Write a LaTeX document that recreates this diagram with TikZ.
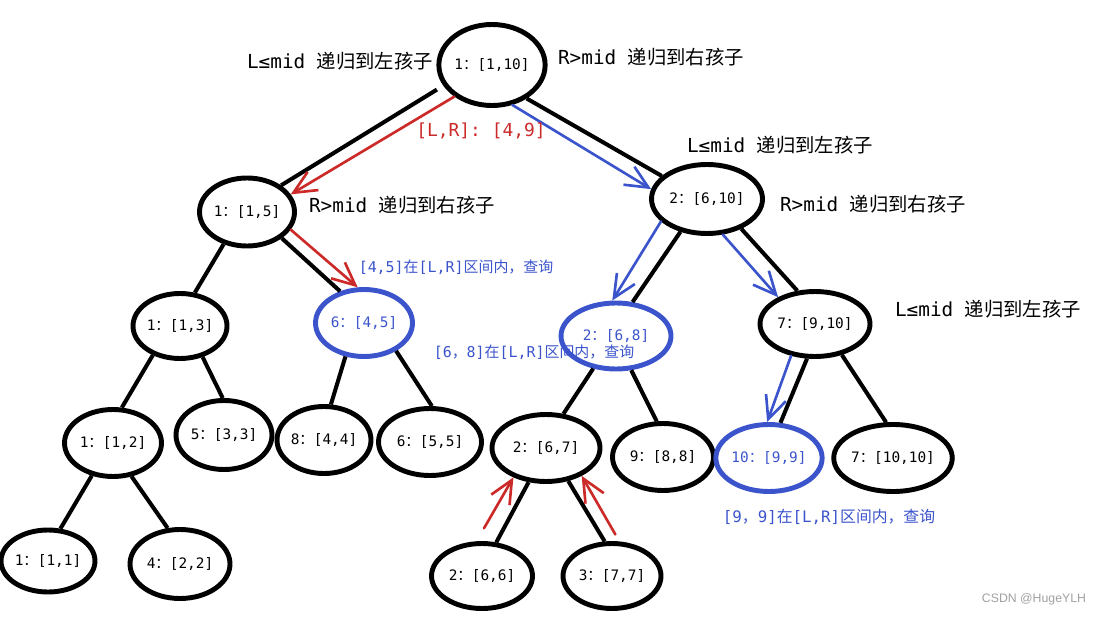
\documentclass[tikz,border=0pt]{standalone}
\usepackage{fontspec}
\setmainfont{DejaVu Sans Mono}
\newfontfamily\cjk{Noto Sans CJK SC}
\newfontfamily\marksans{Liberation Sans}
\usetikzlibrary{shapes.geometric,arrows.meta}
\definecolor{walkred}{RGB}{204,41,41}
\definecolor{hitblue}{RGB}{59,84,204}
\definecolor{markgray}{RGB}{160,160,160}
\tikzset{
  segnode/.style={draw, ellipse, line width=2.8pt, inner sep=0pt, font=\fontsize{8.2}{9}\selectfont},
  hitnode/.style={segnode, draw=hitblue, text=hitblue},
  treeline/.style={line width=2.3pt},
  walkarrow/.style={line width=1.5pt, line cap=round, draw=walkred, -{Straight Barb[length=13pt,width=12pt]}},
  hitarrow/.style={walkarrow, draw=hitblue},
  rulenote/.style={inner sep=0pt, font=\fontsize{11}{13}\selectfont},
  hitnote/.style={inner sep=0pt, text=hitblue, font=\fontsize{8.5}{10}\selectfont},
}
\begin{document}
\begin{tikzpicture}
            \useasboundingbox (0.000000,0.000000) rectangle (21.920000,12.320000);%
            % \clip (0,0) rectangle (21.920000,12.320000);

            % Marking segment nodes, level 0 and 1
            \node [segnode, minimum width=1.920000cm, minimum height=1.620000cm] (r) at (9.840000,11.020000) {1{\cjk ：}[1,10]};%
            \node [segnode, minimum width=1.900000cm, minimum height=1.360000cm] (a) at (4.940000,8.080000) {1{\cjk ：}[1,5]};%
            \node [segnode, minimum width=2.220000cm, minimum height=1.380000cm] (b) at (14.140000,8.340000) {2{\cjk ：}[6,10]};%

            % Marking segment nodes, level 2
            \node [segnode, minimum width=1.880000cm, minimum height=1.300000cm] (c) at (3.600000,5.800000) {1{\cjk ：}[1,3]};%
            \node [hitnode, minimum width=1.940000cm, minimum height=1.340000cm] (d) at (7.280000,5.860000) {6{\cjk ：}[4,5]};%
            \node [hitnode, minimum width=2.200000cm, minimum height=1.320000cm] (e) at (12.320000,5.600000) {2{\cjk ：}[6,8]};%
            \node [segnode, minimum width=2.200000cm, minimum height=1.300000cm] (f) at (16.300000,5.840000) {7{\cjk ：}[9,10]};%

            % Marking segment nodes, level 3
            \node [segnode, minimum width=1.940000cm, minimum height=1.340000cm] (g) at (2.260000,3.460000) {1{\cjk ：}[1,2]};%
            \node [segnode, minimum width=1.920000cm, minimum height=1.380000cm] (h) at (4.480000,3.620000) {5{\cjk ：}[3,3]};%
            \node [segnode, minimum width=1.820000cm, minimum height=1.340000cm] (i) at (6.480000,3.520000) {8{\cjk ：}[4,4]};%
            \node [segnode, minimum width=2.060000cm, minimum height=1.340000cm] (j) at (8.600000,3.480000) {6{\cjk ：}[5,5]};%
            \node [segnode, minimum width=2.160000cm, minimum height=1.340000cm] (k) at (10.920000,3.360000) {2{\cjk ：}[6,7]};%
            \node [segnode, minimum width=2.020000cm, minimum height=1.340000cm] (l) at (13.260000,3.180000) {9{\cjk ：}[8,8]};%
            \node [hitnode, minimum width=1.940000cm, minimum height=1.340000cm] (m) at (15.380000,3.160000) {10{\cjk ：}[9,9]};%
            \node [segnode, minimum width=2.320000cm, minimum height=1.340000cm] (n) at (17.860000,3.160000) {7{\cjk ：}[10,10]};%

            % Marking segment nodes, level 4
            \node [segnode, minimum width=1.880000cm, minimum height=1.240000cm] (o) at (0.960000,1.100000) {1{\cjk ：}[1,1]};%
            \node [segnode, minimum width=2.000000cm, minimum height=1.380000cm] (p) at (3.600000,1.040000) {4{\cjk ：}[2,2]};%
            \node [segnode, minimum width=2.020000cm, minimum height=1.300000cm] (q) at (9.640000,0.800000) {2{\cjk ：}[6,6]};%
            \node [segnode, minimum width=1.960000cm, minimum height=1.300000cm] (s) at (12.240000,0.800000) {3{\cjk ：}[7,7]};%

            % Drawing tree lines
            \draw [treeline, shorten <=0.150000cm] (r.-157) -- (a.38);%
            \draw [treeline] (r.-44) -- (b.153);%
            \draw [treeline] (a.-126) -- (c.66);%
            \draw [treeline] (a.-37) -- (d.127);%
            \draw [treeline] (b.-129) -- (e.64);%
            \draw [treeline] (b.-41) -- (f.118);%
            \draw [treeline] (c.-133) -- (g.76);%
            \draw [treeline] (c.-54) -- (h.92);%
            \draw [treeline] (d.-119) -- (i.79);%
            \draw [treeline] (d.-41) -- (j.87);%
            \draw [treeline] (e.-125) -- (k.63);%
            \draw [treeline] (e.-66) -- (l.100);%
            \draw [treeline] (f.-103) -- (m.72);%
            \draw [treeline] (f.-49) -- (n.101);%
            \draw [treeline] (g.-123) -- (o.69);%
            \draw [treeline] (g.-61) -- (p.109);%
            \draw [treeline] (k.-117) -- (q.67);%
            \draw [treeline] (k.-56) -- (s.102);%

            % Drawing query path, going down
            \draw [walkarrow] (r.-140) -- (a.22);%
            \draw [hitarrow] (r.-63) -- (b.170);%
            \draw [walkarrow] (a.-22) -- (d.100);%
            \draw [hitarrow] (b.-154) -- (e.96);%
            \draw [hitarrow] (b.-66) -- (f.144);%
            \draw [hitarrow] (f.-127) -- (m.93);%

            % Drawing query path, going back up
            \draw [walkarrow, shorten <=0.300000cm] (q.99) -- (k.-138);%
            \draw [walkarrow, shorten <=0.160000cm] (s.78) -- (k.-38);%

            % Marking rule texts
            \node [rulenote] (ruleleft) at (6.800000,11.100000) {L≤mid {\cjk 递归到左孩子}};%
            \node [rulenote] (ruleright) at (13.020000,11.180000) {R>mid {\cjk 递归到右孩子}};%
            \node [rulenote] (ruleb) at (15.600000,9.420000) {L≤mid {\cjk 递归到左孩子}};%
            \node [rulenote] (rulea) at (8.040000,8.220000) {R>mid {\cjk 递归到右孩子}};%
            \node [rulenote] (rulebb) at (17.460000,8.240000) {R>mid {\cjk 递归到右孩子}};%
            \node [rulenote] (rulef) at (19.760000,6.140000) {L≤mid {\cjk 递归到左孩子}};%

            % Marking query range and hits
            \node [inner sep=0pt, text=walkred, font=\fontsize{10.2}{12}\selectfont] (query) at (9.620000,9.700000) {[L,R]: [4,9]};%
            \node [hitnote] (hitd) at (9.120000,6.980000) {[4,5]{\cjk 在}[L,R]{\cjk 区间内，查询}};%
            \node [hitnote] (hite) at (10.680000,5.280000) {[6{\cjk ，}8]{\cjk 在}[L,R]{\cjk 区间内，查询}};%
            \node [hitnote, font=\fontsize{9}{11}\selectfont] (hitm) at (16.580000,1.980000) {[9{\cjk ，}9]{\cjk 在}[L,R]{\cjk 区间内，查询}};%

            % Marking watermark
            \node [inner sep=0pt, text=markgray, font=\marksans\fontsize{7}{8}\selectfont] (mark) at (20.680000,0.340000) {CSDN @HugeYLH};%
\end{tikzpicture}
\end{document}
